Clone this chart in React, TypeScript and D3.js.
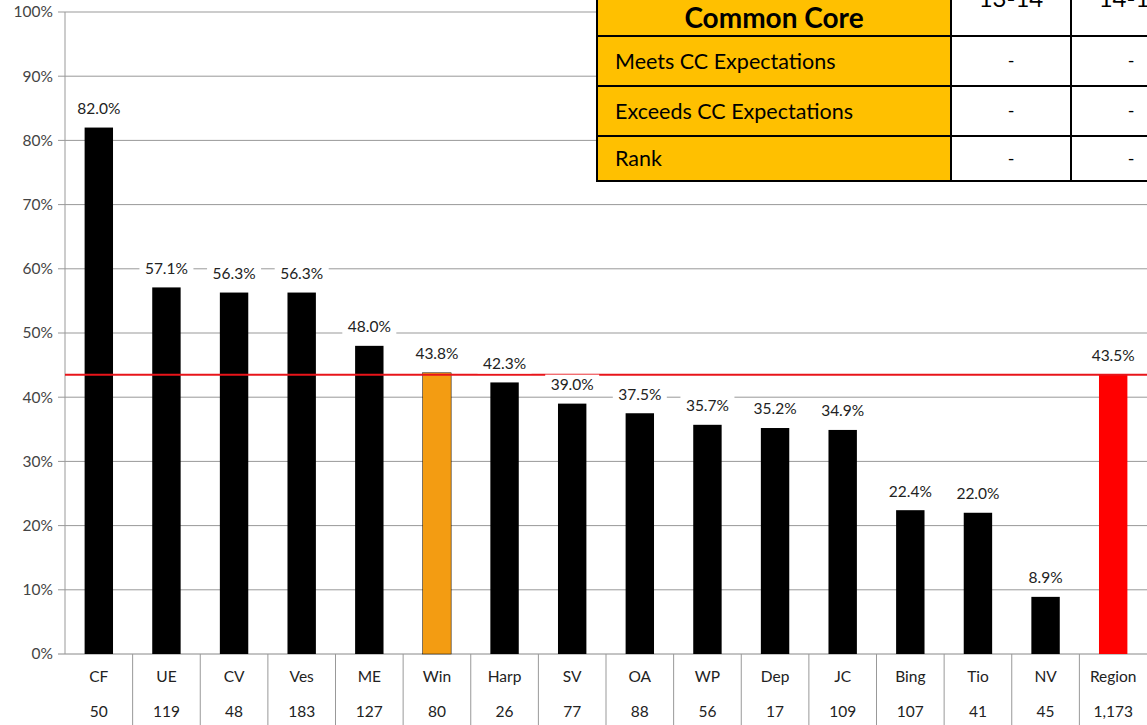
import React from "react";
import * as d3 from "d3";

const categories = ["CF", "UE", "CV", "Ves", "ME", "Win", "Harp", "SV", "OA", "WP", "Dep", "JC", "Bing", "Tio", "NV", "Region"];
const values = [82.0, 57.1, 56.3, 56.3, 48.0, 43.8, 42.3, 39.0, 37.5, 35.7, 35.2, 34.9, 22.4, 22.0, 8.9, 43.5];
const counts = ["50", "119", "48", "183", "127", "80", "26", "77", "88", "56", "17", "109", "107", "41", "45", "1,173"];
const highlight = "Win";
const regionName = "Region";
const regionAverage = 43.5;
const yTicks = [0, 10, 20, 30, 40, 50, 60, 70, 80, 90, 100];

const tableTitle = "Common Core";
const tableColumns = ["13-14", "14-15"];
const tableRows = ["Meets CC Expectations", "Exceeds CC Expectations", "Rank"];
const tableValues = [["-", "-"], ["-", "-"], ["-", "-"]];

const W = 1147, H = 725;
const left = 65, right = 1147, top = 12, bottom = 654;
const font = "Lato, 'Open Sans', sans-serif";

export default function App() {
  const x = d3.scaleBand<string>().domain(categories).range([left, right]).padding(0);
  const y = d3.scaleLinear().domain([0, 100]).range([bottom, top]);
  const bw = x.bandwidth() * 0.42;

  const tL = 597, tC1 = 951, tC2 = 1071, tR = 1200;
  const rowTops = [36, 86, 136];
  const rowBottoms = [86, 136, 181];
  const headerTop = -20;

  return (
    <svg width={W} height={H} style={{ position: "absolute", left: 0, top: 0, background: "#fff" }} fontFamily={font}>
      <rect x={0} y={0} width={W} height={H} fill="#fff" />
      {yTicks.map((t) => (
        <g key={t}>
          <line x1={left - 7} x2={right} y1={y(t)} y2={y(t)} stroke={t === 0 ? "#888" : "#999"} strokeWidth={1} />
          <text x={53} y={y(t)} dy="0.35em" textAnchor="end" fontSize={15.5} fill="#444">{t}%</text>
        </g>
      ))}
      <line x1={left} x2={left} y1={top} y2={bottom} stroke="#999" />
      {categories.slice(1).map((c) => (
        <line key={c} x1={x(c)!} x2={x(c)!} y1={bottom} y2={H} stroke="#999" />
      ))}
      {categories.map((c, i) => {
        const cx = x(c)! + x.bandwidth() / 2;
        const fill = c === highlight ? "#F39C12" : c === regionName ? "#FF0000" : "#000";
        return (
          <rect key={c} x={cx - bw / 2} y={y(values[i])} width={bw} height={bottom - y(values[i])} fill={fill} stroke={c === highlight ? "#000" : "none"} strokeWidth={0.5} />
        );
      })}
      <line x1={left} x2={right} y1={y(regionAverage)} y2={y(regionAverage)} stroke="#E8141A" strokeWidth={2} />
      {categories.map((c, i) => {
        const cx = x(c)! + x.bandwidth() / 2;
        const ly = y(values[i]) - 19;
        return (
          <g key={c}>
            <rect x={cx - 27} y={ly - 10} width={54} height={20} fill="#fff" />
            <text x={cx} y={ly} dy="0.35em" textAnchor="middle" fontSize={15.5} fill="#222">{values[i].toFixed(1)}%</text>
          </g>
        );
      })}
      {categories.map((c, i) => {
        const cx = x(c)! + x.bandwidth() / 2;
        return (
          <g key={c}>
            <text x={cx} y={677} dy="0.35em" textAnchor="middle" fontSize={15.5} fill="#222">{c}</text>
            <text x={cx} y={712} dy="0.35em" textAnchor="middle" fontSize={15.5} fill="#222">{counts[i]}</text>
          </g>
        );
      })}
      <g>
        <rect x={tL} y={headerTop} width={tC1 - tL} height={181 - headerTop} fill="#FFC000" />
        <rect x={tC1} y={headerTop} width={tR - tC1} height={181 - headerTop} fill="#fff" />
        {[36, 86, 136, 181].map((yy) => (
          <line key={yy} x1={tL} x2={tR} y1={yy} y2={yy} stroke="#000" strokeWidth={2} />
        ))}
        <line x1={tL} x2={tL} y1={headerTop} y2={182} stroke="#000" strokeWidth={2} />
        <line x1={tC1} x2={tC1} y1={headerTop} y2={182} stroke="#000" strokeWidth={2} />
        <line x1={tC2} x2={tC2} y1={headerTop} y2={182} stroke="#000" strokeWidth={2} />
        <text x={(tL + tC1) / 2} y={28} textAnchor="middle" fontSize={28} fontWeight="bold" fill="#000">{tableTitle}</text>
        {tableColumns.map((col, j) => (
          <text key={col} x={j === 0 ? 1011 : 1131} y={7} textAnchor="middle" fontSize={24} fill="#000">{col}</text>
        ))}
        {tableRows.map((r, i) => (
          <g key={r}>
            <text x={615} y={(rowTops[i] + rowBottoms[i]) / 2} dy="0.35em" fontSize={21.5} fill="#000">{r}</text>
            {tableValues[i].map((v, j) => (
              <text key={j} x={j === 0 ? 1011 : 1131} y={(rowTops[i] + rowBottoms[i]) / 2} dy="0.35em" textAnchor="middle" fontSize={18} fill="#000">{v}</text>
            ))}
          </g>
        ))}
      </g>
    </svg>
  );
}
